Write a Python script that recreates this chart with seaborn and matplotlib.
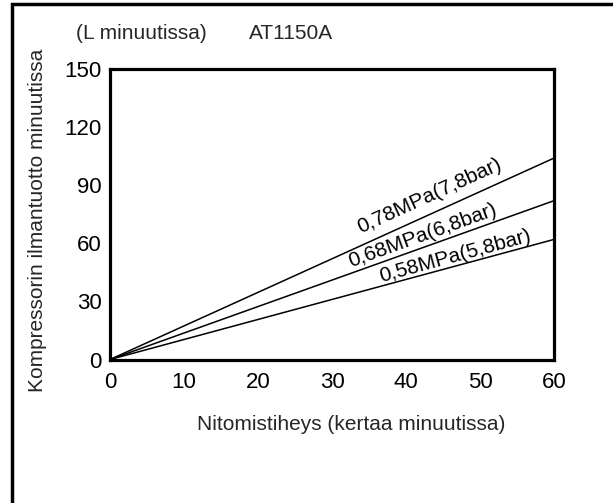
import matplotlib
matplotlib.use("Agg")
import matplotlib.pyplot as plt
import matplotlib.patches as mpatches
import seaborn as sns
import pandas as pd

# ---- data ----
x_vals = [0, 60]
series_names = ["0,78MPa(7,8bar)", "0,68MPa(6,8bar)", "0,58MPa(5,8bar)"]
end_values = [104, 82, 62]
x_ticks = [0, 10, 20, 30, 40, 50, 60]
y_ticks = [0, 30, 60, 90, 120, 150]
label_pos = [(43.2, 84.5), (42.2, 64.0), (46.6, 53.2)]
label_rot = [24.5, 19.8, 15.3]

rows = []
for name, v in zip(series_names, end_values):
    rows.append({"x": x_vals[0], "y": 0, "s": name})
    rows.append({"x": x_vals[1], "y": v, "s": name})
df = pd.DataFrame(rows)

sns.set_style("white")
plt.rcParams["font.family"] = ["Liberation Sans", "DejaVu Sans"]

fig = plt.figure(figsize=(6.13, 5.03), dpi=100)
ax = fig.add_axes([110/613, 1-359.5/503, 444/613, 290.5/503])

sns.lineplot(data=df, x="x", y="y", hue="s", palette=["black"]*3,
             linewidth=1.1, legend=False, ax=ax)

ax.set_xlim(0, 60)
ax.set_ylim(0, 150)
ax.set_xticks(x_ticks)
ax.set_yticks(y_ticks)
ax.set_xticklabels([str(t) for t in x_ticks])
ax.set_yticklabels([str(t) for t in y_ticks])
ax.tick_params(axis="both", direction="in", length=9, width=1.3,
               colors="black", labelsize=16)
ax.tick_params(axis="x", pad=9)
ax.tick_params(axis="y", pad=6)
ax.set_xlabel("")
ax.set_ylabel("")
for sp in ax.spines.values():
    sp.set_visible(True)
    sp.set_color("black")
    sp.set_linewidth(2.3)

for name, (lx, ly), rot in zip(series_names, label_pos, label_rot):
    ax.text(lx, ly, name, rotation=rot, rotation_mode="anchor",
            ha="center", va="center", fontsize=15, color="black")

fig.text(76/613, 1-33/503, "(L minuutissa)", ha="left", va="center", fontsize=15)
fig.text(249/613, 1-33/503, "AT1150A", ha="left", va="center", fontsize=15)
fig.text(38/613, 1-220/503, "Kompressorin ilmantuotto minuutissa",
         rotation=90, ha="center", va="center", fontsize=15)
fig.text(351/613, 1-424/503, "Nitomistiheys (kertaa minuutissa)",
         ha="center", va="center", fontsize=15)

# outer border (only left and top edges visible)
border = mpatches.Rectangle((12/613, -0.1), 1.2, 1.1 - 4/503 + 0.0,
                            transform=fig.transFigure, fill=False,
                            edgecolor="black", linewidth=2.5)
fig.add_artist(border)

fig.savefig("out.png", dpi=100)
